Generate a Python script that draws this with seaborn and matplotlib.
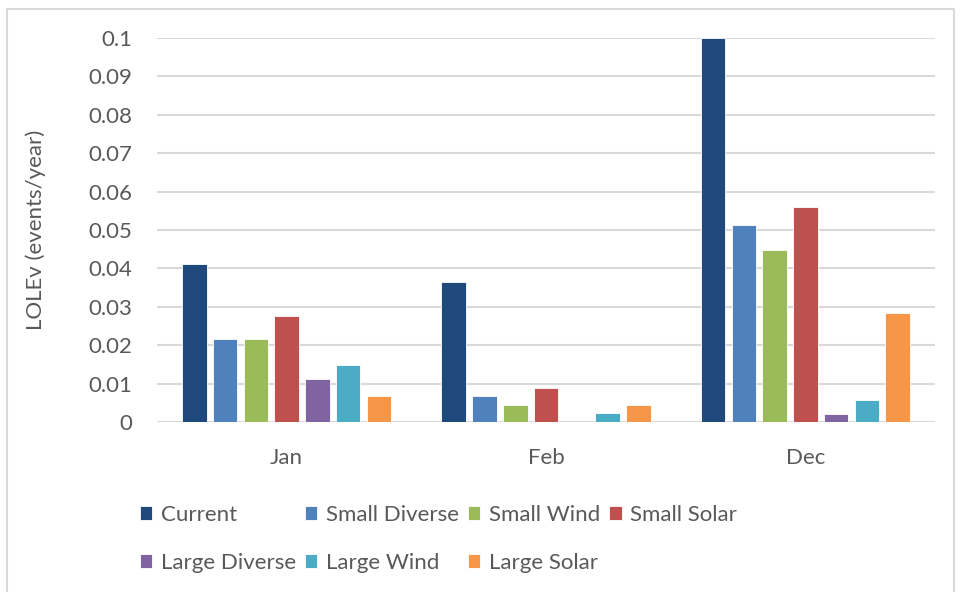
import pandas as pd
import matplotlib.pyplot as plt
import seaborn as sns

# 월별 LOLEv 값
months = ['Jan', 'Feb', 'Dec']
scenarios = ['Current', 'Small Diverse', 'Small Wind', 'Small Solar',
             'Large Diverse', 'Large Wind', 'Large Solar']
current = [0.0411, 0.0365, 0.1000]
small_diverse = [0.0215, 0.0069, 0.0514]
small_wind = [0.0215, 0.0045, 0.0448]
small_solar = [0.0275, 0.0089, 0.0561]
large_diverse = [0.0113, 0.0, 0.0021]
large_wind = [0.0148, 0.0023, 0.0056]
large_solar = [0.0069, 0.0045, 0.0285]

colors = ['#1F497D', '#4F81BD', '#9BBB59', '#C0504D', '#8064A2', '#4BACC6', '#F79646']

series = [current, small_diverse, small_wind, small_solar,
          large_diverse, large_wind, large_solar]
rows = []
for name, vals in zip(scenarios, series):
    for m, v in zip(months, vals):
        rows.append({'Month': m, 'Scenario': name, 'LOLEv': v})
df = pd.DataFrame(rows)

sns.set_style('white')
plt.rcParams['font.family'] = ['Lato', 'DejaVu Sans']
text_color = '#595959'
fs = 16

fig = plt.figure(figsize=(9.64, 5.92), dpi=100)
ax = fig.add_axes([157 / 964, 1 - 422 / 592, (935 - 157) / 964, (422 - 38) / 592])

sns.barplot(data=df, x='Month', y='LOLEv', hue='Scenario', order=months,
            hue_order=scenarios, palette=colors, saturation=1, width=0.83, gap=0.2,
            edgecolor='white', linewidth=0.6, ax=ax)

ax.set_ylim(0, 0.1)
ax.set_yticks([i / 100 for i in range(11)])
ax.set_yticklabels(['0', '0.01', '0.02', '0.03', '0.04', '0.05', '0.06',
                    '0.07', '0.08', '0.09', '0.1'])
ax.yaxis.grid(True, color='#D9D9D9', linewidth=1.5)
ax.set_axisbelow(True)
for s in ax.spines.values():
    s.set_visible(False)
ax.axhline(0, color='#D9D9D9', linewidth=1.5, zorder=0.5)
ax.tick_params(axis='y', length=0, pad=18, labelsize=fs, labelcolor=text_color)
ax.tick_params(axis='x', length=0, pad=19, labelsize=fs, labelcolor=text_color)
ax.set_xlabel('')
ax.set_ylabel('LOLEv (events/year)', fontsize=fs, color=text_color)
ax.yaxis.set_label_coords((46 - 157) / 778, 0.5)

# 범례: 엑셀처럼 행 순서로 배치
handles, labels = ax.get_legend_handles_labels()
ax.get_legend().remove()
order = [0, 4, 1, 5, 2, 6, 3]
fig.legend([handles[i] for i in order], [labels[i] for i in order],
           ncol=4, loc='upper left', bbox_to_anchor=(140 / 964, 1 - 505 / 592),
           frameon=False, fontsize=fs, labelcolor=text_color,
           handlelength=0.55, handleheight=0.55, handletextpad=0.4,
           columnspacing=0.4, labelspacing=1.25, borderpad=0, borderaxespad=0)

# 차트 테두리
fig.patches.append(plt.Rectangle((7 / 964, -0.05), (954 - 7) / 964, 1.05 - 9 / 592,
                                 transform=fig.transFigure, fill=False,
                                 edgecolor='#D9D9D9', linewidth=1.5))

fig.savefig('out.png', dpi=100)
